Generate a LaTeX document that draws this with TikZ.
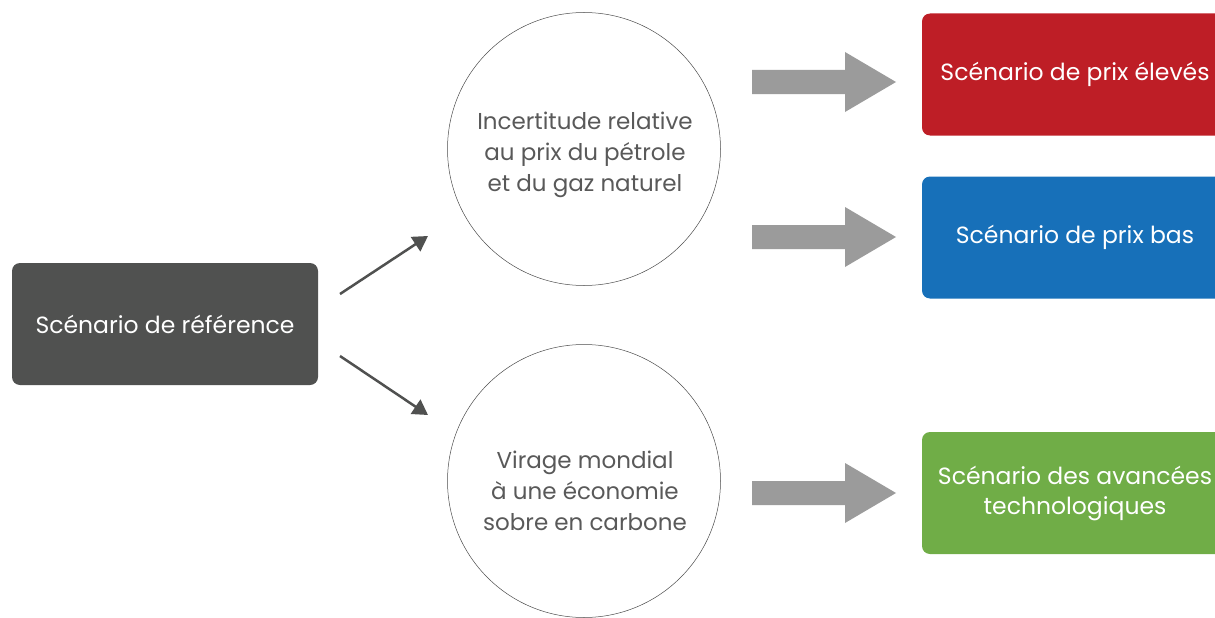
\documentclass[tikz,border=0pt]{standalone}
\usepackage{fontspec}
\setmainfont{Poppins}
\usetikzlibrary{arrows.meta,shapes.geometric}
\definecolor{darkbox}{HTML}{505150}
\definecolor{redbox}{HTML}{BE1E26}
\definecolor{bluebox}{HTML}{1770B9}
\definecolor{greenbox}{HTML}{70AD47}
\definecolor{blockgray}{HTML}{9B9B9B}
\definecolor{txtgray}{HTML}{595959}
\tikzset{
  scenbox/.style={rounded corners=8pt, minimum width=306pt, minimum height=122pt, inner sep=0pt, text=white, align=center,
    font=\fontsize{23.5}{30}\selectfont},
  bubble/.style={circle, draw=black!70, line width=0.5pt, minimum size=273pt, inner sep=0pt},
  bubbletext/.style={text=txtgray, align=center, font=\fontsize{23}{31}\selectfont},
  thinarrow/.style={draw=darkbox, line width=2.5pt, -{Triangle[length=15pt,width=17pt]}},
  blockarrow/.style={fill=blockgray, draw=none}
}
\begin{document}
\begin{tikzpicture}[x=1pt,y=-1pt]
\useasboundingbox (0,0) rectangle (1215,618);
\node[scenbox, fill=darkbox] (ref) at (165,324) {Scénario de référence};
\node[bubble] (inc) at (584,149) {};
\node[bubbletext] (inctext) at (585,155) {Incertitude relative\\au prix du pétrole\\et du gaz naturel};
\node[bubble] (vir) at (584,481) {};
\node[bubbletext] (virtext) at (585,491) {Virage mondial\\à une économie\\sobre en carbone};
\node[scenbox, fill=redbox] (high) at (1075,74.5) {Scénario de prix élevés};
\node[scenbox, fill=bluebox] (low) at (1075,237.5) {Scénario de prix bas};
\node[scenbox, fill=greenbox] (tech) at (1075,493) {Scénario des avancées\\technologiques};
\coordinate (a1s) at (340,294);
\coordinate (a1e) at (428,236);
\coordinate (a2s) at (340,356);
\coordinate (a2e) at (428,415);
\draw[thinarrow] (a1s) -- (a1e);
\draw[thinarrow] (a2s) -- (a2e);
\foreach \y in {82,237,493}{
  \fill[blockgray] (752,\y-12) -- (845,\y-12) -- (845,\y-30) -- (896,\y) -- (845,\y+30) -- (845,\y+12) -- (752,\y+12) -- cycle;
}
\end{tikzpicture}
\end{document}
